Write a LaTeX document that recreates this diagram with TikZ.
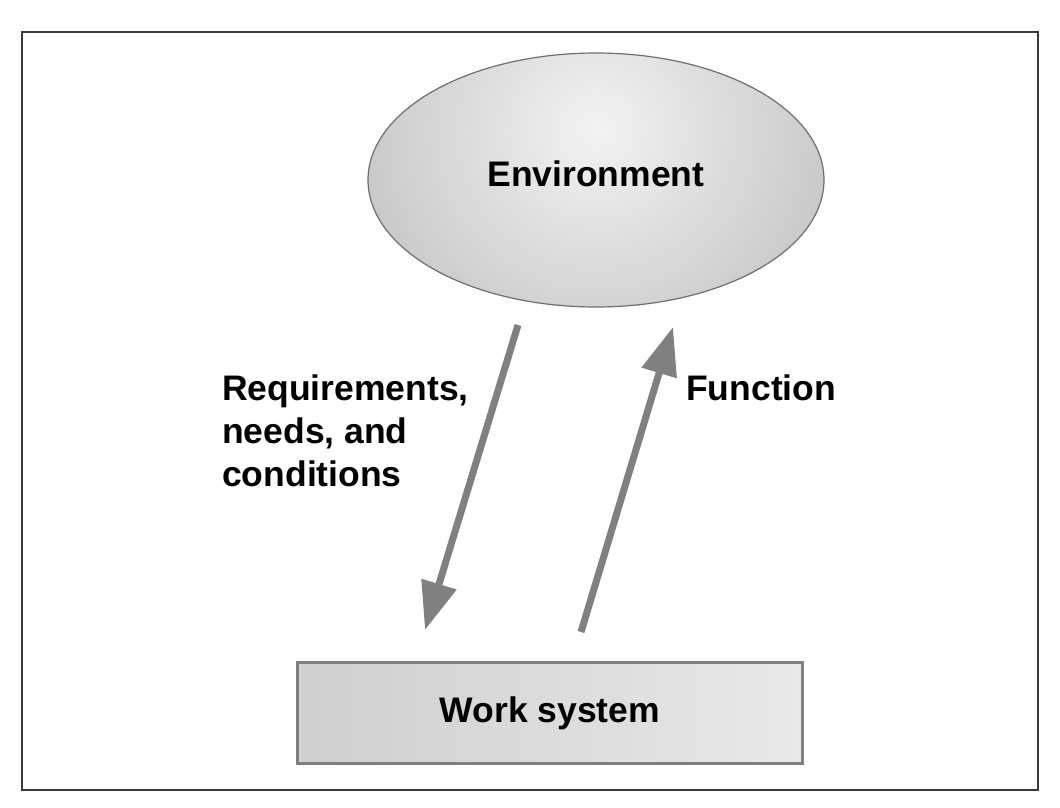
\documentclass[tikz,border=0pt]{standalone}
\usepackage{fontspec}
\setmainfont{Liberation Sans}
\usetikzlibrary{arrows.meta,shapes.geometric,calc}
\definecolor{framegray}{HTML}{3A3A3A}
\definecolor{arrowgray}{HTML}{808080}
\definecolor{boxedge}{HTML}{7F7F7F}
\definecolor{ovaledge}{HTML}{6E6E6E}
\tikzset{
	flow/.style={draw=arrowgray, line width=7pt, -{Triangle[length=48pt, width=35pt]}},
	bigfont/.style={font=\fontsize{35.5}{43}\selectfont\bfseries},
	lbl/.style={bigfont, inner sep=0pt, align=left, anchor=north west}
}
\begin{document}
\begin{tikzpicture}[x=1pt, y=-1pt]
	\useasboundingbox (0,0) rectangle (1060,808);
	\draw[framegray, line width=2.5pt] (22,32) rectangle (1038,790);

	% environment and work system
	\node[ellipse, draw=ovaledge, line width=1.2pt, minimum width=456pt, minimum height=254pt, bigfont, text depth=12pt,
		path picture={\shade[inner color=black!5, outer color=black!31] ($(path picture bounding box.center)+(0,-50)$) circle (380pt);}] (env) at (596,180) {Environment};
	\node[draw=boxedge, line width=3.5pt, left color=black!19, right color=black!9, minimum width=505pt, minimum height=101pt, bigfont] (work) at (550,713) {Work system};

	% arrow ends
	\coordinate (reqS) at (518,325);
	\coordinate (reqE) at (425,630);
	\coordinate (funS) at (581,632);
	\coordinate (funE) at (673,327);

	\draw[flow] (reqS) -- (reqE);
	\draw[flow] (funS) -- (funE);

	\node[lbl] (req) at (222,375) {Requirements,\\needs, and\\conditions};
	\node[lbl] (fun) at (686,375) {Function};
\end{tikzpicture}
\end{document}
